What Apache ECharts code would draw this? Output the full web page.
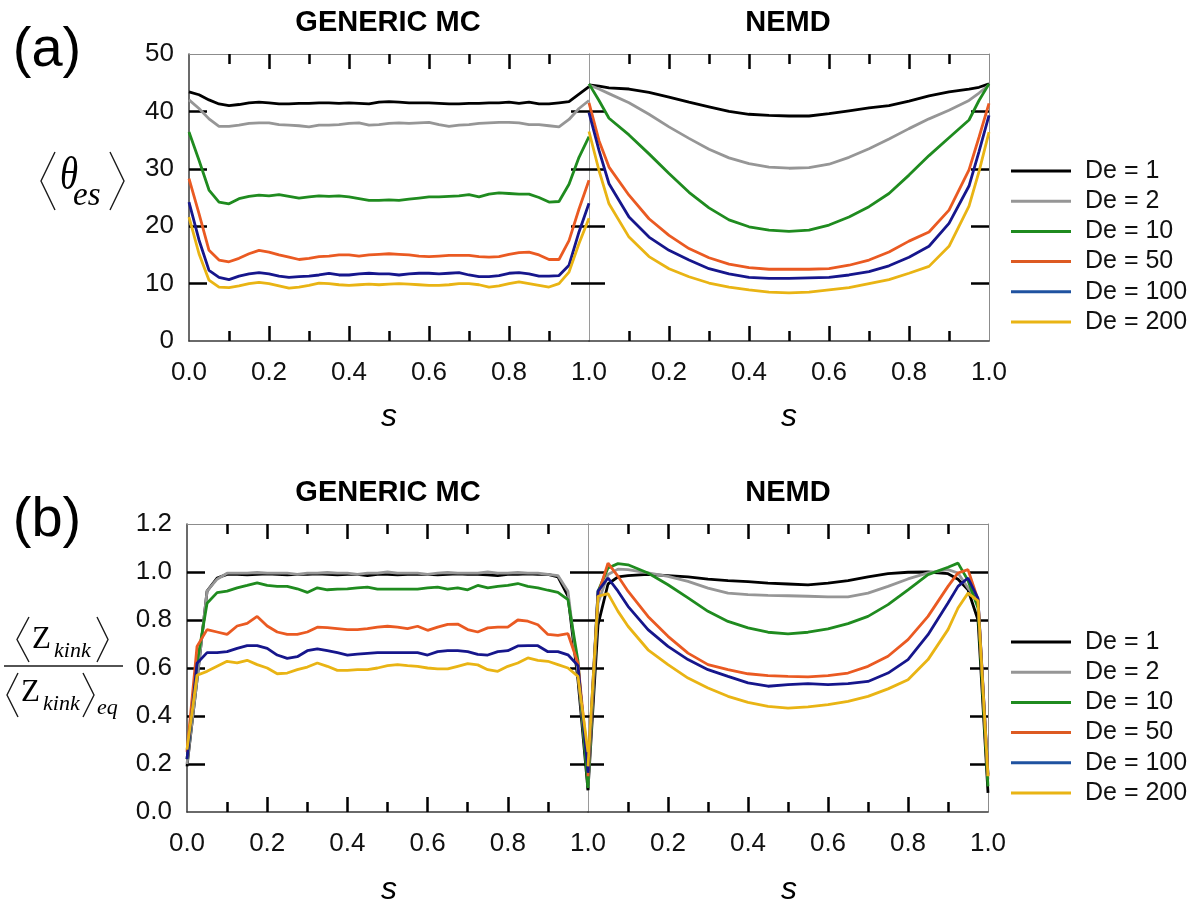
<!DOCTYPE html>
<html>
<head>
<meta charset="utf-8">
<title>Orientation angle and kink density profiles</title>
<script src="https://cdn.jsdelivr.net/npm/echarts@6/dist/echarts.min.js"></script>
<style>
  html, body { margin: 0; padding: 0; background: #ffffff; }
  #chart { width: 1197px; height: 904px; }
</style>
</head>
<body>
<div id="chart"></div>
<script>
// ---- legend entries, one per Deborah number ----
const deLabels = ['De = 1', 'De = 2', 'De = 10', 'De = 50', 'De = 100', 'De = 200'];
const lineColors = ['#000000', '#969696', '#1f8b1f', '#ea5a22', '#16168c', '#e9b414'];
const legendColors = ['#000000', '#969696', '#1f8b1f', '#dd5a22', '#1f52a0', '#e9b414'];

// ---- tick labels ----
const sTicks = [0.0, 0.2, 0.4, 0.6, 0.8, 1.0];
const thetaTicks = [0, 10, 20, 30, 40, 50];
const kinkTicks = [0.0, 0.2, 0.4, 0.6, 0.8, 1.0, 1.2];

// ---- contour position s along the chain ----
const sGenericMC = [0, 0.025, 0.05, 0.075, 0.1, 0.125, 0.15, 0.175, 0.2, 0.225, 0.25, 0.275, 0.3, 0.325,
  0.35, 0.375, 0.4, 0.425, 0.45, 0.475, 0.5, 0.525, 0.55, 0.575, 0.6, 0.625, 0.65, 0.675, 0.7, 0.725,
  0.75, 0.775, 0.8, 0.825, 0.85, 0.875, 0.9, 0.925, 0.95, 0.975, 1.0];
const sNemdTheta = [0, 0.025, 0.05, 0.1, 0.15, 0.2, 0.25, 0.3, 0.35, 0.4, 0.45, 0.5, 0.55, 0.6, 0.65,
  0.7, 0.75, 0.8, 0.85, 0.9, 0.95, 0.975, 1.0];
const sNemdKink = [0, 0.025, 0.05, 0.075, 0.1, 0.15, 0.2, 0.25, 0.3, 0.35, 0.4, 0.45, 0.5, 0.55, 0.6,
  0.65, 0.7, 0.75, 0.8, 0.85, 0.9, 0.925, 0.95, 0.975, 1.0];

// ---- (a) <theta_es>, GENERIC MC; rows follow deLabels ----
const thetaGenericMC = [
  [43.4,42.9,42.0,41.3,41.0,41.2,41.5,41.6,41.5,41.3,41.3,41.4,41.4,41.5,41.5,41.4,41.5,41.4,41.3,41.6,41.7,
   41.6,41.5,41.5,41.5,41.4,41.3,41.3,41.4,41.4,41.5,41.5,41.6,41.4,41.6,41.3,41.3,41.5,41.7,43.0,44.3],
  [42.0,40.5,38.7,37.4,37.4,37.6,37.9,38.0,38.0,37.7,37.6,37.5,37.3,37.6,37.6,37.7,37.9,38.0,37.6,37.7,37.9,
   38.0,37.9,38.0,38.1,37.7,37.4,37.6,37.7,37.9,38.0,38.1,38.1,38.0,37.7,37.7,37.5,37.3,38.6,40.5,41.9],
  [36.4,31.5,26.3,24.2,23.9,24.8,25.2,25.4,25.3,25.5,25.2,24.9,25.1,25.3,25.2,25.3,25.1,24.8,24.5,24.5,24.6,
   24.5,24.7,24.9,25.1,25.1,25.2,25.3,25.5,25.1,25.6,25.8,25.7,25.6,25.6,25.0,24.2,24.3,27.3,32.0,35.6],
  [28.3,22.2,15.8,14.1,13.8,14.4,15.2,15.8,15.5,15.0,14.6,14.2,14.4,14.7,14.8,15.0,15.0,14.8,15.0,15.1,15.2,
   15.1,15.0,14.8,14.7,14.8,14.9,14.9,14.9,14.7,14.6,14.7,15.1,15.4,15.5,15.0,14.2,14.2,17.5,23.0,28.0],
  [24.2,17.6,12.3,11.1,10.7,11.3,11.7,11.9,11.7,11.3,11.1,11.2,11.3,11.5,11.8,11.5,11.5,11.7,11.8,11.7,11.7,
   11.5,11.7,11.8,11.8,11.7,11.8,11.9,11.5,11.2,11.2,11.4,11.8,11.9,11.7,11.3,11.3,11.4,13.2,19.0,24.0],
  [21.6,15.2,10.6,9.4,9.3,9.6,10.0,10.2,10.0,9.6,9.2,9.4,9.7,10.1,10.0,9.8,9.7,9.8,9.9,9.8,9.9,
   10.0,9.9,9.8,9.7,9.7,9.8,10.0,10.0,9.8,9.4,9.6,10.0,10.3,10.0,9.7,9.4,10.0,12.0,17.0,21.4]
];

// ---- (a) <theta_es>, NEMD ----
const thetaNemd = [
  [44.6,44.4,44.1,43.9,43.3,42.5,41.6,40.8,40.0,39.5,39.3,39.2,39.2,39.6,40.1,40.6,41.0,41.8,42.7,43.4,43.9,44.2,44.8],
  [44.6,43.9,43.1,41.5,39.5,37.3,35.3,33.4,31.9,30.9,30.3,30.1,30.2,30.8,32.0,33.5,35.2,37.0,38.7,40.2,41.9,43.2,44.6],
  [44.8,41.9,38.8,35.9,32.6,29.2,25.9,23.2,21.1,19.9,19.3,19.1,19.3,20.2,21.6,23.4,25.7,28.9,32.3,35.4,38.5,41.9,44.8],
  [41.5,34.9,30.3,25.4,21.3,18.4,16.1,14.5,13.4,12.8,12.5,12.5,12.5,12.6,13.2,14.1,15.5,17.4,19.0,22.8,29.8,35.5,41.4],
  [39.8,33.2,27.4,21.6,18.1,15.8,14.1,12.6,11.7,11.1,10.9,10.9,11.0,11.1,11.5,12.1,13.1,14.6,16.5,20.5,27.0,33.0,39.3],
  [36.5,29.7,23.9,18.1,14.7,12.6,11.2,10.1,9.4,8.9,8.5,8.4,8.5,8.9,9.3,10.0,10.7,11.8,13.0,16.5,23.5,29.5,36.4]
];

// ---- (b) <Z_kink>/<Z_kink>_eq, GENERIC MC ----
const kinkGenericMC = [
  [0.19,0.55,0.92,0.975,0.99,0.99,0.988,0.99,0.992,0.99,0.988,0.99,0.99,0.992,0.99,0.988,0.99,0.99,0.985,0.99,0.99,
   0.988,0.99,0.99,0.99,0.988,0.99,0.992,0.99,0.99,0.988,0.985,0.99,0.99,0.992,0.99,0.99,0.98,0.90,0.55,0.09],
  [0.20,0.55,0.92,0.97,0.995,0.995,0.995,0.998,0.995,0.995,0.995,0.99,0.995,0.995,0.998,0.995,0.995,0.99,0.995,0.995,1.0,
   0.995,0.995,0.995,0.99,0.995,0.998,0.995,0.995,0.995,1.0,0.995,0.995,0.998,0.995,0.995,0.99,0.985,0.92,0.58,0.13],
  [0.22,0.62,0.87,0.914,0.92,0.934,0.944,0.955,0.944,0.94,0.94,0.93,0.915,0.934,0.926,0.929,0.93,0.934,0.937,0.929,0.929,
   0.929,0.929,0.929,0.934,0.937,0.929,0.934,0.926,0.944,0.934,0.94,0.944,0.952,0.94,0.934,0.924,0.915,0.885,0.63,0.10],
  [0.25,0.69,0.76,0.75,0.74,0.775,0.786,0.815,0.775,0.75,0.74,0.74,0.75,0.77,0.768,0.764,0.76,0.76,0.764,0.77,0.774,
   0.77,0.764,0.774,0.757,0.77,0.782,0.783,0.76,0.75,0.767,0.77,0.77,0.80,0.795,0.78,0.74,0.736,0.743,0.62,0.20],
  [0.22,0.62,0.664,0.664,0.668,0.682,0.693,0.693,0.682,0.654,0.64,0.647,0.672,0.68,0.672,0.664,0.654,0.658,0.661,0.664,0.664,
   0.664,0.664,0.664,0.654,0.668,0.672,0.672,0.668,0.657,0.654,0.668,0.672,0.692,0.693,0.693,0.668,0.668,0.655,0.61,0.17],
  [0.26,0.57,0.586,0.607,0.628,0.621,0.632,0.614,0.60,0.576,0.579,0.593,0.604,0.621,0.607,0.59,0.59,0.593,0.593,0.60,0.61,
   0.614,0.61,0.607,0.60,0.596,0.596,0.607,0.618,0.613,0.593,0.586,0.607,0.621,0.642,0.632,0.628,0.614,0.60,0.565,0.25]
];

// ---- (b) <Z_kink>/<Z_kink>_eq, NEMD ----
const kinkNemd = [
  [0.093,0.78,0.95,0.98,0.985,0.99,0.985,0.98,0.97,0.964,0.96,0.954,0.95,0.946,0.954,0.964,0.98,0.993,0.999,1.0,0.993,0.97,0.926,0.80,0.08],
  [0.107,0.87,0.99,1.012,1.01,0.996,0.982,0.961,0.933,0.912,0.906,0.903,0.901,0.899,0.896,0.896,0.912,0.94,0.971,0.996,1.01,0.996,0.933,0.885,0.135],
  [0.11,0.92,1.017,1.035,1.03,0.996,0.947,0.892,0.836,0.794,0.767,0.749,0.742,0.749,0.763,0.785,0.815,0.864,0.926,0.989,1.02,1.037,0.965,0.85,0.107],
  [0.149,0.906,1.037,0.982,0.92,0.815,0.732,0.662,0.614,0.593,0.576,0.568,0.565,0.563,0.568,0.579,0.607,0.649,0.718,0.815,0.94,0.996,1.01,0.885,0.15],
  [0.163,0.92,0.975,0.92,0.857,0.76,0.69,0.635,0.593,0.565,0.538,0.524,0.531,0.535,0.531,0.535,0.544,0.579,0.635,0.739,0.871,0.94,0.975,0.89,0.156],
  [0.19,0.899,0.91,0.836,0.774,0.676,0.614,0.558,0.517,0.482,0.457,0.44,0.433,0.438,0.447,0.461,0.482,0.513,0.551,0.635,0.76,0.85,0.912,0.88,0.149]
];

// ---------------------------------------------------------------------------
const SANS = '"Liberation Sans", Arial, Helvetica, sans-serif';
const SERIF = '"Liberation Serif", "Times New Roman", serif';
const TICK_FONT = 26;

// panel frames: [left, top, width, height]
const frames = [
  [189, 54, 400, 287],   // (a) GENERIC MC
  [589, 54, 400, 287],   // (a) NEMD
  [187, 524, 401, 288],  // (b) GENERIC MC
  [588, 524, 400, 288]   // (b) NEMD
];

const darkLine = { color: '#3a3a3a', width: 1.5 };
const greyLine = { color: '#8c8c8c', width: 1 };
const dividerLine = { color: '#9a9a9a', width: 1 };
const tickStyle = { color: '#000000', width: 2.5 };

const grids = frames.map(f => ({ left: f[0], top: f[1], width: f[2], height: f[3], containLabel: false, outerBoundsMode: 'none' }));

const xAxes = [];
const yAxes = [];
frames.forEach((f, gi) => {
  const isLeft = gi % 2 === 0;
  const isTheta = gi < 2;
  const xBase = {
    gridIndex: gi, type: 'value', min: sTicks[0], max: sTicks[sTicks.length - 1], interval: 0.2,
    splitLine: { show: false },
    axisTick: { show: true, inside: true, length: 15, lineStyle: tickStyle, customValues: sTicks.slice(1, -1) },
    minorTick: { show: true, splitNumber: 2, length: 10, lineStyle: tickStyle },
    minorSplitLine: { show: false }
  };
  xAxes.push(Object.assign({}, xBase, {
    position: 'bottom',
    axisLine: { show: true, onZero: false, lineStyle: darkLine },
    axisLabel: {
      show: true, fontSize: TICK_FONT, fontFamily: SANS, color: '#111111', margin: 19,
      showMinLabel: isLeft, showMaxLabel: true, hideOverlap: false,
      formatter: v => v.toFixed(1)
    }
  }));
  xAxes.push(Object.assign({}, xBase, {
    position: 'top',
    axisLine: { show: true, onZero: false, lineStyle: greyLine },
    axisLabel: { show: false }
  }));

  const yTicks = isTheta ? thetaTicks : kinkTicks;
  const yBase = {
    gridIndex: gi, type: 'value', min: yTicks[0], max: yTicks[yTicks.length - 1],
    interval: isTheta ? 10 : 0.2,
    splitLine: { show: false },
    axisTick: { show: true, inside: true, length: 18, lineStyle: tickStyle, customValues: yTicks.slice(1, -1) }
  };
  yAxes.push(Object.assign({}, yBase, {
    position: 'left',
    axisLine: { show: true, onZero: false, lineStyle: isLeft ? darkLine : dividerLine },
    axisTick: Object.assign({}, yBase.axisTick, { length: isLeft ? 18 : 16 }),
    axisLabel: {
      show: isLeft, fontSize: TICK_FONT, fontFamily: SANS, color: '#111111', margin: 15,
      hideOverlap: false,
      formatter: v => isTheta ? String(Math.round(v)) : v.toFixed(1)
    }
  }));
  yAxes.push(Object.assign({}, yBase, {
    position: 'right',
    axisLine: { show: true, onZero: false, lineStyle: isLeft ? dividerLine : greyLine },
    axisLabel: { show: false }
  }));
});

// ---- one line per Deborah number in every panel ----
const panels = [
  { s: sGenericMC, rows: thetaGenericMC },
  { s: sNemdTheta, rows: thetaNemd },
  { s: sGenericMC, rows: kinkGenericMC },
  { s: sNemdKink, rows: kinkNemd }
];
const series = [];
panels.forEach((p, gi) => {
  p.rows.forEach((vals, k) => {
    series.push({
      name: deLabels[k],
      type: 'line',
      xAxisIndex: gi * 2,
      yAxisIndex: gi * 2,
      data: p.s.map((sv, i) => [sv, vals[i]]),
      symbol: 'none',
      showSymbol: false,
      smooth: false,
      clip: true,
      silent: true,
      lineStyle: { color: lineColors[k], width: 2.8 },
      itemStyle: { color: lineColors[k] },
      z: 3 + k
    });
  });
});

// legend keys are drawn as flat 3px bars, like short line segments
function makeLegend(top) {
  return {
    orient: 'vertical', left: 1011, top: top, padding: 0,
    icon: 'rect', itemWidth: 60, itemHeight: 3, itemGap: 0.2,
    selectedMode: false,
    textStyle: { fontSize: 25, fontFamily: SANS, color: '#111111', lineHeight: 30, padding: [0, 0, 0, 9] },
    data: deLabels.map((n, k) => ({
      name: n,
      icon: 'rect',
      itemStyle: { color: legendColors[k], borderWidth: 0 }
    }))
  };
}

// ---- headings, panel letters, axis names ----
function txt(x, y, text, font, opts) {
  return Object.assign({
    type: 'text', x: x, y: y, silent: true,
    style: Object.assign({
      text: text, fill: '#000000', textAlign: 'center', textVerticalAlign: 'middle'
    }, font)
  }, opts || {});
}
function bracket(points) {
  return { type: 'polyline', silent: true, shape: { points: points }, style: { stroke: '#1a1a1a', lineWidth: 1.4, fill: null } };
}

const graphics = [
  txt(47, 51, '(a)', { fontSize: 56, fontFamily: SANS }),
  txt(47, 521, '(b)', { fontSize: 56, fontFamily: SANS }),
  txt(388, 23, 'GENERIC MC', { fontSize: 29, fontWeight: 'bold', fontFamily: SANS }),
  txt(788, 23, 'NEMD', { fontSize: 29, fontWeight: 'bold', fontFamily: SANS }),
  txt(388, 493, 'GENERIC MC', { fontSize: 29, fontWeight: 'bold', fontFamily: SANS }),
  txt(788, 493, 'NEMD', { fontSize: 29, fontWeight: 'bold', fontFamily: SANS }),
  txt(389, 417, 's', { fontSize: 32, fontStyle: 'italic', fontFamily: SANS }),
  txt(789, 417, 's', { fontSize: 32, fontStyle: 'italic', fontFamily: SANS }),
  txt(389, 890, 's', { fontSize: 32, fontStyle: 'italic', fontFamily: SANS }),
  txt(789, 890, 's', { fontSize: 32, fontStyle: 'italic', fontFamily: SANS }),

  // <theta_es>
  bracket([[55, 152], [41, 181], [55, 210]]),
  txt(50, 177, 'θ', { fontSize: 46, fontStyle: 'italic', fontFamily: SERIF, textAlign: 'left' }, { scaleX: 0.8, originX: 50, originY: 177 }),
  txt(73, 196, 'es', { fontSize: 33, fontStyle: 'italic', fontFamily: SERIF, textAlign: 'left' }),
  bracket([[110, 152], [124, 181], [110, 210]]),

  // <Z_kink> / <Z_kink>_eq
  bracket([[29, 617], [17, 639.5], [29, 662]]),
  txt(32, 640, 'Z', { fontSize: 31, fontFamily: SERIF, textAlign: 'left' }),
  txt(54, 651, 'kink', { fontSize: 22, fontStyle: 'italic', fontFamily: SERIF, textAlign: 'left' }),
  bracket([[97, 617], [108, 639.5], [97, 662]]),
  { type: 'line', silent: true, shape: { x1: 4, y1: 666, x2: 123, y2: 666 }, style: { stroke: '#1a1a1a', lineWidth: 1.5 } },
  bracket([[18, 673], [7, 695], [18, 717]]),
  txt(21, 693, 'Z', { fontSize: 31, fontFamily: SERIF, textAlign: 'left' }),
  txt(43, 704, 'kink', { fontSize: 22, fontStyle: 'italic', fontFamily: SERIF, textAlign: 'left' }),
  bracket([[83, 673], [94, 695], [83, 717]]),
  txt(97, 708, 'eq', { fontSize: 22, fontStyle: 'italic', fontFamily: SERIF, textAlign: 'left' })
];

const chart = echarts.init(document.getElementById('chart'), null, { renderer: 'canvas', width: 1197, height: 904 });
chart.setOption({
  backgroundColor: '#ffffff',
  animation: false,
  textStyle: { fontFamily: SANS },
  grid: grids,
  xAxis: xAxes,
  yAxis: yAxes,
  legend: [makeLegend(156), makeLegend(627)],
  series: series,
  graphic: graphics
});
</script>
</body>
</html>
